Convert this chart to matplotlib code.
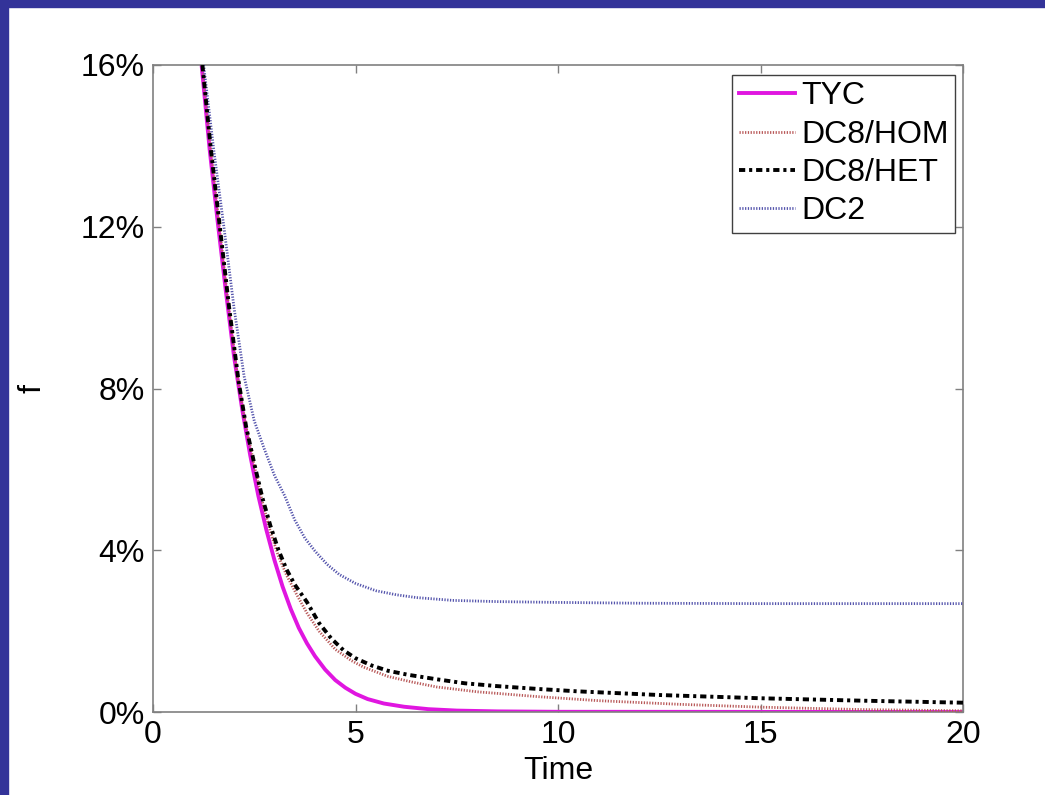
import matplotlib
matplotlib.use("Agg")
import matplotlib.pyplot as plt
from matplotlib.patches import Rectangle

plt.rcParams['font.family'] = ['Liberation Sans', 'DejaVu Sans']

# values (time, f in %)
t_tyc = [1.20, 1.40, 1.60, 1.80, 2.00, 2.20, 2.40, 2.60, 2.80, 3.00, 3.20, 3.40, 3.60, 3.80,
         4.00, 4.25, 4.50, 4.75, 5.00, 5.30, 5.70, 6.20, 6.80, 7.50, 8.50, 10.0, 20.0]
f_tyc = [16.0, 13.9, 12.1, 10.4, 8.8, 7.5, 6.35, 5.35, 4.5, 3.75, 3.1, 2.55, 2.08, 1.70,
         1.38, 1.05, 0.79, 0.60, 0.45, 0.32, 0.21, 0.13, 0.07, 0.035, 0.015, 0.005, 0.0]

t_hom = [1.22, 1.43, 1.64, 1.87, 2.10, 2.30, 2.50, 2.70, 2.90, 3.10, 3.30, 3.55, 3.80, 4.10,
         4.50, 4.90, 5.20, 5.80, 6.40, 7.00, 8.00, 9.50, 11.0, 13.0, 15.0, 17.5, 20.0]
f_hom = [16.0, 13.9, 12.0, 10.0, 8.2, 7.05, 6.1, 5.2, 4.45, 3.85, 3.38, 2.9, 2.45, 2.0,
         1.55, 1.27, 1.11, 0.88, 0.74, 0.62, 0.50, 0.38, 0.28, 0.19, 0.12, 0.06, 0.03]

t_het = [1.22, 1.43, 1.65, 1.88, 2.11, 2.30, 2.51, 2.70, 2.90, 3.10, 3.30, 3.50, 3.80, 4.10,
         4.40, 4.70, 5.00, 5.40, 5.80, 6.30, 7.00, 7.70, 8.50, 9.50, 10.5, 12.5, 15.0, 17.5, 20.0]
f_het = [16.0, 13.9, 12.0, 10.0, 8.2, 7.05, 6.1, 5.3, 4.6, 4.0, 3.52, 3.15, 2.72, 2.2,
         1.82, 1.53, 1.33, 1.15, 1.02, 0.92, 0.81, 0.71, 0.64, 0.57, 0.51, 0.42, 0.34, 0.28, 0.23]

t_dc2 = [1.25, 1.50, 1.75, 2.00, 2.25, 2.50, 2.75, 3.00, 3.25, 3.50, 3.75, 4.00, 4.30, 4.60,
         5.00, 5.50, 6.00, 6.50, 7.40, 8.50, 10.0, 12.0, 15.0, 20.0]
f_dc2 = [16.0, 13.9, 12.0, 10.0, 8.3, 7.2, 6.5, 5.85, 5.35, 4.75, 4.3, 3.98, 3.65, 3.4,
         3.18, 3.0, 2.9, 2.83, 2.76, 2.73, 2.71, 2.69, 2.68, 2.68]

labels = ['TYC', 'DC8/HOM', 'DC8/HET', 'DC2']
yticks = [0, 4, 8, 12, 16]
xticks = [0, 5, 10, 15, 20]

W, H = 1045, 795
fig = plt.figure(figsize=(W / 100, H / 100), dpi=100)
fig.patch.set_facecolor('white')

# blue frame strips on left and top edge
fig.patches.append(Rectangle((0, 0), 8 / W, 1, transform=fig.transFigure,
                             color='#333399', zorder=0))
fig.patches.append(Rectangle((0, 1 - 7 / H), 1, 7 / H, transform=fig.transFigure,
                             color='#333399', zorder=0))

ax = fig.add_axes([153 / W, 83 / H, 810 / W, 647 / H])

ax.plot(t_tyc, f_tyc, color='#E016E0', lw=2.8, label=labels[0], zorder=2)
ax.plot(t_hom, f_hom, color='#B85858', lw=2.0, ls=(0, (0.45, 0.55)), label=labels[1], zorder=3)
ax.plot(t_het, f_het, color='black', lw=2.8, ls=(0, (1.6, 1.0, 0.8, 1.0)), label=labels[2], zorder=4)
ax.plot(t_dc2, f_dc2, color='#5454AC', lw=2.0, ls=(0, (0.45, 0.55)), label=labels[3], zorder=3)

ax.set_xlim(0, 20)
ax.set_ylim(0, 16)
ax.set_xticks(xticks)
ax.set_yticks(yticks)
ax.set_yticklabels([f'{v}%' for v in yticks])

for s in ax.spines.values():
    s.set_color('#808080')
    s.set_linewidth(1.2)
ax.tick_params(direction='in', length=6, width=1, color='#808080', labelsize=23,
               top=True, right=True, pad=6)

ax.set_xlabel('Time', fontsize=23, labelpad=4)
ax.set_ylabel('f', fontsize=23)
ax.yaxis.set_label_coords(-0.13, 0.5)

leg = ax.legend(loc='upper right', bbox_to_anchor=(955 / W, 1 - 75 / H),
                bbox_transform=fig.transFigure, borderaxespad=0, fontsize=23,
                fancybox=False, framealpha=1, edgecolor='#404040',
                handlelength=1.75, handletextpad=0.2, labelspacing=0.26,
                borderpad=0.2)
leg.get_frame().set_linewidth(1.0)

fig.savefig('out.png', dpi=100)
